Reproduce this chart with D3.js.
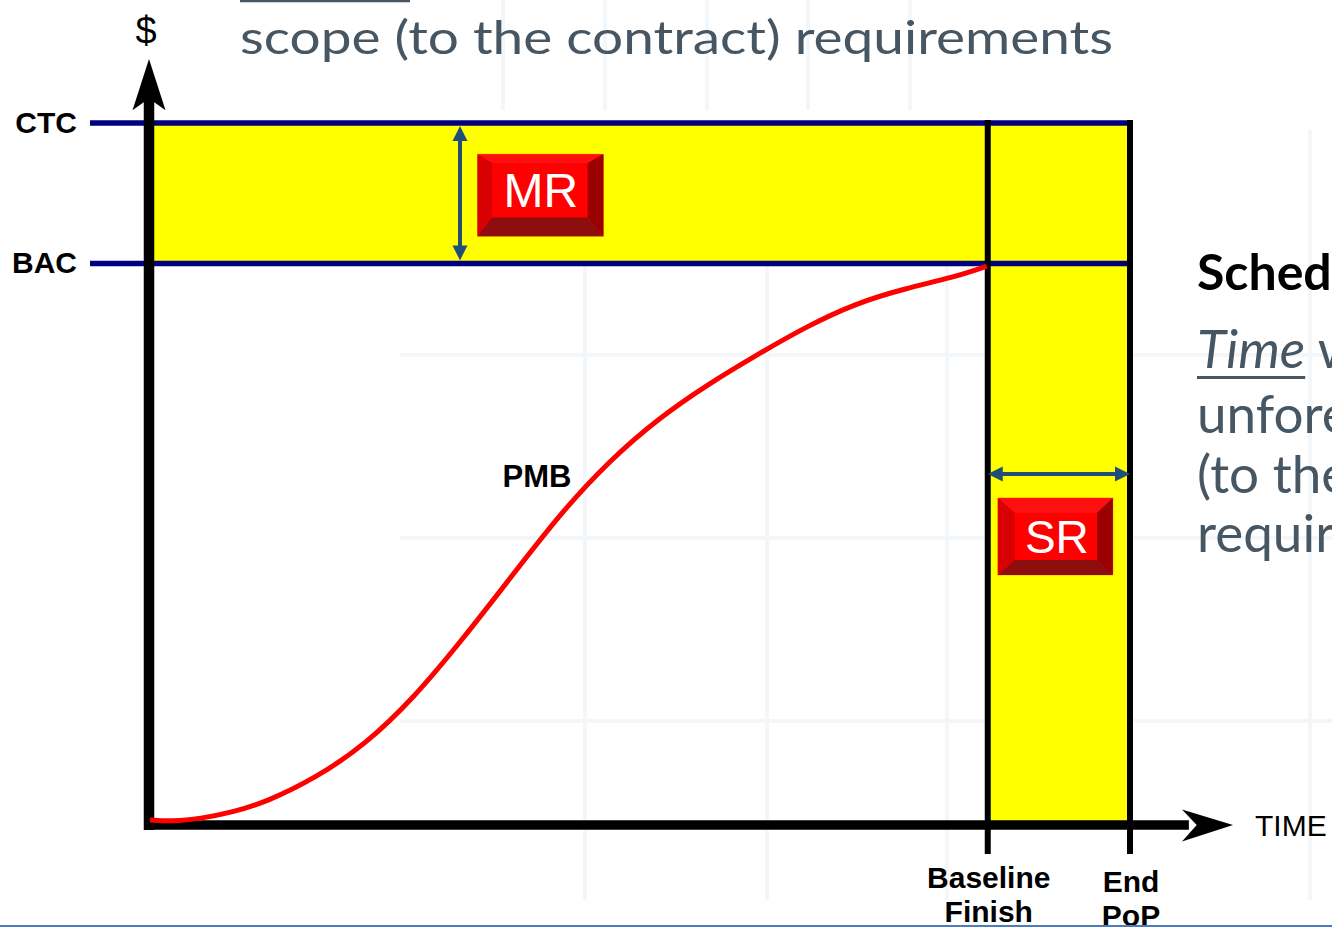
<!DOCTYPE html>
<html><head><meta charset="utf-8">
<script src="https://cdn.jsdelivr.net/npm/d3@7"></script>
<style>html,body{margin:0;padding:0;background:#fff;overflow:hidden}</style>
</head><body><svg id="c" width="1332" height="927"></svg>
<script>
// ---- data ----
const levelLabels = ["CTC", "BAC"];
const levelValues = [100, 80];
const milestoneLabels = [["Baseline", "Finish"], ["End", "PoP"]];
const milestoneTimes = [85.5, 100];
const pmbTime  = [0.1, 2.4, 5.2, 8.5, 12.0, 17.0, 22.0, 27.0, 32.0, 37.0, 42.0, 47.0, 52.0, 57.0, 62.0, 67.0, 72.0, 77.0, 82.0, 85.4];
const pmbValue = [0.7, 0.5, 0.9, 1.8, 3.3, 6.7, 11.4, 18.1, 26.5, 35.5, 44.5, 52.0, 58.0, 62.8, 67.0, 71.0, 74.3, 76.4, 78.0, 79.6];
const reserveLabels = ["MR", "SR"];
const axisLabels = ["$", "TIME"];
const curveLabel = "PMB";
const titleLine = "scope (to the contract) requirements";
const sideHeading = "Schedule Reserve";
const sideLines = ["unforeseen work within", "(to the contract)", "requirements"];

// ---- setup ----
const svg = d3.select("#c");
const W = 1332, H = 927;
const x = d3.scaleLinear().domain([0, 100]).range([149, 1130]);
const y = d3.scaleLinear().domain([0, 100]).range([825, 123]);
const ARIAL = "'Liberation Sans', Arial, sans-serif";
const SLIDE = "Lato, 'Open Sans', sans-serif";
const slideColor = "#465663";

svg.append("rect").attr("width", W).attr("height", H).attr("fill", "#fff");

// faint slide background grid
const g0 = svg.append("g").attr("stroke", "#eef2f6").attr("stroke-width", 4).attr("opacity", 0.6);
[585, 767, 947, 1310].forEach(v => g0.append("line").attr("x1", v).attr("x2", v).attr("y1", 130).attr("y2", 900));
[503, 605, 707, 808, 910].forEach(v => g0.append("line").attr("x1", v).attr("x2", v).attr("y1", 0).attr("y2", 110));
[355, 538, 721].forEach(v => g0.append("line").attr("x1", 400).attr("x2", W).attr("y1", v).attr("y2", v));

// title text
svg.append("line").attr("x1", 240).attr("x2", 410).attr("y1", 1).attr("y2", 1)
  .attr("stroke", slideColor).attr("stroke-width", 2.5);
svg.append("text").attr("x", 240).attr("y", 54).text(titleLine)
  .attr("font-family", SLIDE).attr("font-size", 46).attr("fill", slideColor)
  .attr("textLength", 873).attr("lengthAdjust", "spacingAndGlyphs");

// side text
svg.append("text").attr("x", 1197).attr("y", 290).text(sideHeading)
  .attr("font-family", SLIDE).attr("font-weight", "bold").attr("font-size", 50).attr("fill", "#000");
const timeT = svg.append("text").attr("x", 1197).attr("y", 368)
  .attr("font-family", SLIDE).attr("font-size", 53).attr("fill", slideColor);
const tItal = timeT.append("tspan").attr("font-style", "italic").text("Time");
timeT.append("tspan").text(" within the PMB for");
const tw = tItal.node().getComputedTextLength();
svg.append("line").attr("x1", 1197).attr("x2", 1197 + tw).attr("y1", 377.5).attr("y2", 377.5)
  .attr("stroke", slideColor).attr("stroke-width", 3);
[433, 493, 552].forEach((b, i) => svg.append("text").attr("x", 1197).attr("y", b).text(sideLines[i])
  .attr("font-family", SLIDE).attr("font-size", 53).attr("fill", slideColor));

// yellow reserve regions
const yellow = "#ffff00";
svg.append("rect").attr("x", x(0) + 5).attr("y", y(levelValues[0]))
  .attr("width", x(milestoneTimes[1]) - x(0) - 5).attr("height", y(levelValues[1]) - y(levelValues[0]))
  .attr("fill", yellow);
svg.append("rect").attr("x", x(milestoneTimes[0])).attr("y", y(levelValues[1]))
  .attr("width", x(milestoneTimes[1]) - x(milestoneTimes[0])).attr("height", y(0) - y(levelValues[1]))
  .attr("fill", yellow);

// CTC / BAC lines and labels
levelValues.forEach((v, i) => {
  svg.append("line").attr("x1", 90).attr("x2", x(milestoneTimes[1])).attr("y1", y(v)).attr("y2", y(v))
    .attr("stroke", "#000080").attr("stroke-width", 5.5);
  svg.append("text").attr("x", 77).attr("y", y(v) + 10).attr("text-anchor", "end").text(levelLabels[i])
    .attr("font-family", ARIAL).attr("font-weight", "bold").attr("font-size", 30).attr("fill", "#000");
});

// milestone vertical lines and labels
milestoneTimes.forEach((t, i) => {
  svg.append("line").attr("x1", x(t)).attr("x2", x(t)).attr("y1", y(levelValues[0]) - 3).attr("y2", 854)
    .attr("stroke", "#000").attr("stroke-width", 6);
  const base = i === 0 ? 888 : 892;
  milestoneLabels[i].forEach((s, j) => svg.append("text").attr("x", x(t) + 1).attr("y", base + j * 34)
    .attr("text-anchor", "middle").text(s)
    .attr("font-family", ARIAL).attr("font-weight", "bold").attr("font-size", 30).attr("fill", "#000"));
});

// axes
const ax = svg.append("g");
ax.append("line").attr("x1", x(0)).attr("x2", x(0)).attr("y1", y(0) + 5).attr("y2", y(104))
  .attr("stroke", "#000").attr("stroke-width", 10.5);
ax.append("line").attr("x1", x(0) - 5).attr("x2", x(106)).attr("y1", y(0)).attr("y2", y(0))
  .attr("stroke", "#000").attr("stroke-width", 9.5);
const yTip = y(109.1), yBack = y(101.8), yNotch = y(103.5);
ax.append("path").attr("fill", "#000")
  .attr("d", `M${x(0)},${yTip} L${x(0) + 16.5},${yBack} L${x(0)},${yNotch} L${x(0) - 16.5},${yBack} Z`);
const xTip = x(110.5), xBack = x(105.3), xNotch = x(106.8);
ax.append("path").attr("fill", "#000")
  .attr("d", `M${xTip},${y(0)} L${xBack},${y(0) - 15.5} L${xNotch},${y(0)} L${xBack},${y(0) + 16.5} Z`);
svg.append("text").attr("x", 146).attr("y", 44).attr("text-anchor", "middle").text(axisLabels[0])
  .attr("font-family", ARIAL).attr("font-size", 38).attr("fill", "#000");
svg.append("text").attr("x", 1255).attr("y", 836).text(axisLabels[1])
  .attr("font-family", ARIAL).attr("font-size", 30).attr("fill", "#000");

// PMB curve
const pts = pmbTime.map((t, i) => [t, pmbValue[i]]);
svg.append("path").datum(pts)
  .attr("d", d3.line().x(d => x(d[0])).y(d => y(d[1])).curve(d3.curveBasis))
  .attr("fill", "none").attr("stroke", "#ff0000").attr("stroke-width", 5).attr("stroke-linecap", "butt");
svg.append("text").attr("x", 537).attr("y", 487).attr("text-anchor", "middle").text(curveLabel)
  .attr("font-family", ARIAL).attr("font-weight", "bold").attr("font-size", 31).attr("fill", "#000");

// double arrows
const arrowCol = "#1f4e79";
function dblArrow(x1, y1, x2, y2) {
  const L = 15, hw = 7.5;
  const dx = x2 - x1, dy = y2 - y1, len = Math.hypot(dx, dy), ux = dx / len, uy = dy / len;
  const px = -uy, py = ux;
  svg.append("line").attr("x1", x1 + ux * L * 0.8).attr("y1", y1 + uy * L * 0.8)
    .attr("x2", x2 - ux * L * 0.8).attr("y2", y2 - uy * L * 0.8)
    .attr("stroke", arrowCol).attr("stroke-width", 4);
  [[x1, y1, 1], [x2, y2, -1]].forEach(([ex, ey, s]) => {
    const bx = ex + ux * L * s, by = ey + uy * L * s;
    svg.append("path").attr("fill", arrowCol)
      .attr("d", `M${ex},${ey} L${bx + px * hw},${by + py * hw} L${bx - px * hw},${by - py * hw} Z`);
  });
}
dblArrow(x(31.7), y(levelValues[0]) + 3, x(31.7), y(levelValues[1]) - 3);
dblArrow(x(milestoneTimes[0]), y(50), x(milestoneTimes[1]), y(50));

// bevelled reserve buttons
function button(cx, cy, w, h, b, label, fs) {
  const x0 = cx - w / 2, y0 = cy - h / 2, x1 = x0 + w, y1 = y0 + h;
  const ix0 = x0 + b.l, iy0 = y0 + b.t, ix1 = x1 - b.r, iy1 = y1 - b.b;
  const g = svg.append("g");
  g.append("rect").attr("x", x0).attr("y", y0).attr("width", w).attr("height", h)
    .attr("fill", "#ff0000").attr("stroke", "#ff9a00").attr("stroke-width", 0.8);
  g.append("path").attr("fill", "#ff1010").attr("d", `M${x0},${y0} L${x1},${y0} L${ix1},${iy0} L${ix0},${iy0} Z`);
  g.append("path").attr("fill", "#d80000").attr("d", `M${x0},${y0} L${ix0},${iy0} L${ix0},${iy1} L${x0},${y1} Z`);
  g.append("path").attr("fill", "#9a0000").attr("d", `M${x1},${y0} L${x1},${y1} L${ix1},${iy1} L${ix1},${iy0} Z`);
  g.append("path").attr("fill", "#8e0e0e").attr("d", `M${x0},${y1} L${ix0},${iy1} L${ix1},${iy1} L${x1},${y1} Z`);
  g.append("rect").attr("x", ix0).attr("y", iy0).attr("width", ix1 - ix0).attr("height", iy1 - iy0).attr("fill", "#ff0000");
  g.append("text").attr("x", (ix0 + ix1) / 2 + 1).attr("y", (iy0 + iy1) / 2 + fs * 0.36).attr("text-anchor", "middle")
    .text(label).attr("font-family", ARIAL).attr("font-size", fs).attr("fill", "#fff");
}
button(x(39.9), (y(levelValues[0]) + y(levelValues[1])) / 2 + 2, 126, 82, {t: 9, l: 15, r: 16, b: 19}, reserveLabels[0], 48);
button((x(milestoneTimes[0]) + x(milestoneTimes[1])) / 2 - 3.5, y(41.1), 115, 77, {t: 15, l: 17, r: 16, b: 15}, reserveLabels[1], 46);

// bottom slide rule
svg.append("rect").attr("x", 0).attr("y", 925).attr("width", W).attr("height", 2).attr("fill", "#4a7ebb");
</script></body></html>
